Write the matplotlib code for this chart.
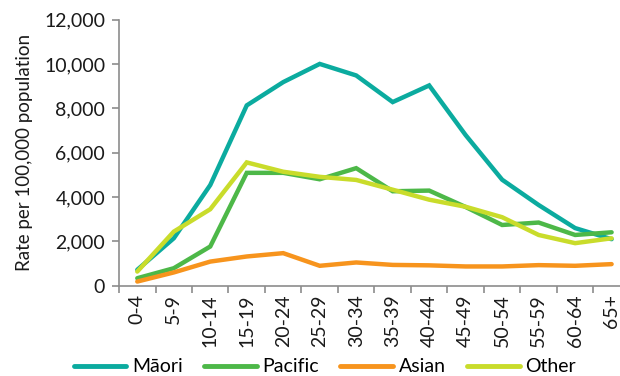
import matplotlib
matplotlib.use("Agg")
import matplotlib.pyplot as plt
from matplotlib.ticker import FuncFormatter, MultipleLocator, FixedLocator

age_groups = ["0-4", "5-9", "10-14", "15-19", "20-24", "25-29", "30-34",
              "35-39", "40-44", "45-49", "50-54", "55-59", "60-64", "65+"]
maori = [720, 2140, 4540, 8130, 9180, 10000, 9480, 8280, 9030, 6790, 4780, 3640, 2600, 2100]
pacific = [340, 790, 1770, 5090, 5090, 4800, 5300, 4260, 4290, 3550, 2740, 2850, 2290, 2410]
asian = [190, 600, 1090, 1320, 1470, 900, 1050, 940, 920, 870, 870, 930, 900, 975]
other = [640, 2440, 3450, 5560, 5140, 4910, 4770, 4330, 3880, 3560, 3090, 2290, 1920, 2140]

series = [("Māori", maori, "#0BAB9F"),
          ("Pacific", pacific, "#4DB848"),
          ("Asian", asian, "#F7941D"),
          ("Other", other, "#C9DC2B")]

plt.rcParams["font.family"] = ["Lato", "DejaVu Sans"]
fig = plt.figure(figsize=(6.2, 3.76), dpi=100)
ax = fig.add_axes([0.192, 0.24, 0.808, 0.708])

x = list(range(len(age_groups)))
for name, vals, col in series:
    ax.plot(x, vals, color=col, lw=3.2, label=name, solid_capstyle="round",
            solid_joinstyle="miter")

ax.set_ylim(0, 12000)
ax.set_xlim(-0.5, 13.23)
ax.yaxis.set_major_locator(MultipleLocator(2000))
ax.yaxis.set_major_formatter(FuncFormatter(lambda v, p: f"{int(v):,}"))
ax.set_xticks(x)
ax.set_xticklabels(age_groups, rotation=90, fontsize=14, color="#1a1a1a")
ax.xaxis.set_minor_locator(FixedLocator([i - 0.5 for i in x]))
ax.tick_params(axis="x", which="major", length=0, pad=6)
ax.tick_params(axis="x", which="minor", length=5, width=1.2, color="#8c8c8c")
ax.tick_params(axis="y", length=5, width=1.2, color="#8c8c8c", labelsize=14,
               labelcolor="#1a1a1a", pad=5)

for side in ("top", "right"):
    ax.spines[side].set_visible(False)
for side in ("left", "bottom"):
    ax.spines[side].set_color("#8c8c8c")
    ax.spines[side].set_linewidth(1.2)

ax.set_ylabel("Rate per 100,000 population", fontsize=13.5, color="#1a1a1a", labelpad=8)

leg = fig.legend(loc="lower center", bbox_to_anchor=(0.524, -0.045), ncol=4,
                 frameon=False, fontsize=14, handlelength=2.7, handletextpad=0.3,
                 columnspacing=1.1)
for h in leg.get_lines():
    h.set_linewidth(3.5)

fig.savefig("out.png", dpi=100)
